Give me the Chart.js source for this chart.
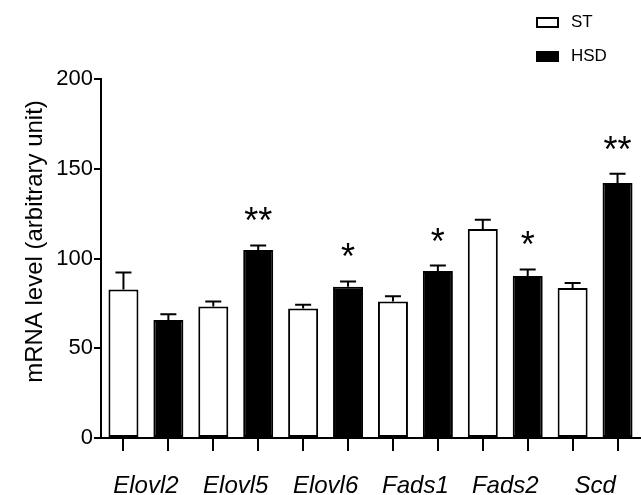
<!DOCTYPE html>
<html>
<head>
<meta charset="utf-8">
<script src="https://cdn.jsdelivr.net/npm/chart.js@4.4.1/dist/chart.umd.min.js"></script>
<style>
  body { margin: 0; background: #fff; }
  #wrap { position: relative; width: 641px; height: 495px; }
  #legend { position: absolute; left: 536px; top: 12px; font: 17px 'Liberation Sans', Arial, sans-serif; color: #000; }
  .item { display: flex; align-items: center; height: 20px; margin-bottom: 14px; }
  .swatch { width: 19px; height: 7px; border: 2px solid #000; margin-right: 12px; }
</style>
</head>
<body>
<div id="wrap">
  <canvas id="myChart" width="641" height="495"></canvas>
  <div id="legend"></div>
</div>
<script>
var genes = ['Elovl2', 'Elovl5', 'Elovl6', 'Fads1', 'Fads2', 'Scd'];
var seriesNames = ['ST', 'HSD'];
var stMean = [82.7, 73.3, 72.2, 76.0, 116.5, 83.6];
var stErr = [9.5, 2.7, 2.0, 3.0, 5.1, 2.8];
var hsdMean = [65.8, 104.7, 84.2, 93.0, 90.2, 142.0];
var hsdErr = [3.2, 2.6, 3.0, 3.1, 3.7, 5.2];
var hsdStars = ['', '**', '*', '*', '*', '**'];
var yTicks = [0, 50, 100, 150, 200];
var yTitle = 'mRNA level (arbitrary unit)';

Chart.defaults.font.family = "'Liberation Sans', Arial, sans-serif";
Chart.defaults.color = '#000';

// one tick per bar, so the tick axis gets a slot for every gene/series pair
var barSlots = [];
genes.forEach(function(g) {
    seriesNames.forEach(function(s) { barSlots.push(g + ' ' + s); });
});

// upward SEM whiskers and significance stars
var errorBars = {
    id: 'errorBars',
    afterDatasetsDraw: function(chart) {
        var ctx = chart.ctx;
        var y = chart.scales.y;
        ctx.save();
        ctx.strokeStyle = '#000';
        ctx.fillStyle = '#000';
        ctx.lineWidth = 2;
        ctx.font = "36px 'Liberation Sans', Arial, sans-serif";
        ctx.textAlign = 'center';
        ctx.textBaseline = 'alphabetic';
        chart.data.datasets.forEach(function(ds, i) {
            var meta = chart.getDatasetMeta(i);
            meta.data.forEach(function(bar, j) {
                var top = y.getPixelForValue(ds.data[j] + ds.errors[j]);
                ctx.beginPath();
                ctx.moveTo(bar.x, bar.y);
                ctx.lineTo(bar.x, top);
                ctx.moveTo(bar.x - 8, top);
                ctx.lineTo(bar.x + 8, top);
                ctx.stroke();
                if (ds.stars && ds.stars[j]) {
                    ctx.fillText(ds.stars[j], bar.x, top - 12);
                }
            });
        });
        ctx.restore();
    }
};

// y title sits a bit above the middle of the axis in the original
var axisTitle = {
    id: 'axisTitle',
    afterDraw: function(chart) {
        var ctx = chart.ctx;
        var area = chart.chartArea;
        ctx.save();
        ctx.translate(35, (area.top + area.bottom) / 2 - 17);
        ctx.rotate(-Math.PI / 2);
        ctx.font = "24px 'Liberation Sans', Arial, sans-serif";
        ctx.fillStyle = '#000';
        ctx.textAlign = 'center';
        ctx.textBaseline = 'middle';
        ctx.fillText(yTitle, 0, 0);
        ctx.restore();
    }
};

var chart = new Chart(document.getElementById('myChart'), {
    type: 'bar',
    data: {
        labels: genes,
        datasets: [
            {
                label: seriesNames[0],
                data: stMean,
                errors: stErr,
                xAxisID: 'x',
                backgroundColor: '#fff',
                borderColor: '#000',
                borderWidth: 2,
                borderSkipped: false
            },
            {
                label: seriesNames[1],
                data: hsdMean,
                errors: hsdErr,
                stars: hsdStars,
                xAxisID: 'x',
                backgroundColor: '#000',
                borderColor: '#000',
                borderWidth: 2,
                borderSkipped: false
            }
        ]
    },
    options: {
        responsive: false,
        animation: false,
        barPercentage: 0.668,
        categoryPercentage: 1,
        layout: { padding: { top: 79, right: 1, bottom: 0, left: 0 } },
        plugins: { legend: { display: false }, tooltip: { enabled: false } },
        scales: {
            x: {
                position: 'bottom',
                weight: 1,
                afterFit: function(s) { s.height = 44; },
                grid: { display: false },
                border: { display: false },
                ticks: { font: { size: 24, style: 'italic' }, padding: 13, color: '#000', maxRotation: 0 }
            },
            xt: {
                type: 'category',
                axis: 'x',
                position: 'bottom',
                weight: 0,
                labels: barSlots,
                offset: true,
                ticks: { display: false },
                grid: { offset: false, drawOnChartArea: false, tickLength: 13, color: '#000', lineWidth: 2 },
                border: { color: '#000', width: 2 }
            },
            y: {
                min: 0,
                max: 200,
                afterBuildTicks: function(s) { s.ticks = yTicks.map(function(v) { return { value: v }; }); },
                afterFit: function(s) { s.width = 101; },
                ticks: { font: { size: 22 }, padding: 1, color: '#000' },
                grid: { drawOnChartArea: false, tickLength: 7, color: '#000', lineWidth: 2 },
                border: { color: '#000', width: 2 }
            }
        }
    },
    plugins: [errorBars, axisTitle]
});

var legend = document.getElementById('legend');
chart.data.datasets.forEach(function(ds) {
    var item = document.createElement('div');
    item.className = 'item';
    var sw = document.createElement('span');
    sw.className = 'swatch';
    sw.style.background = ds.backgroundColor;
    var txt = document.createElement('span');
    txt.textContent = ds.label;
    item.appendChild(sw);
    item.appendChild(txt);
    legend.appendChild(item);
});
</script>
</body>
</html>
